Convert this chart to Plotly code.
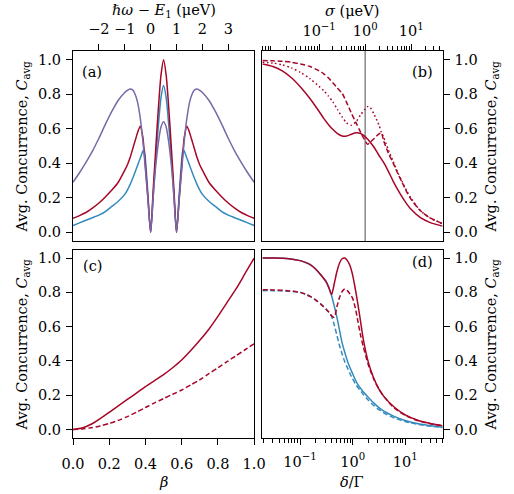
import plotly.graph_objects as go

# ---------------- data ----------------
# Panel (a): hbar*omega - E1 (ueV)
a_x = [-3.0, -2.75, -2.5, -2.25, -2.0, -1.75, -1.5, -1.25, -1.0, -0.9, -0.8, -0.7, -0.6, -0.5,
       -0.4, -0.3, -0.25, -0.2, -0.1, 0.0, 0.1, 0.2, 0.3, 0.4, 0.5, 0.6, 0.7, 0.8, 0.9, 1.0,
       1.1, 1.2, 1.25, 1.3, 1.4, 1.5, 1.6, 1.7, 1.8, 1.9, 2.0, 2.25, 2.5, 2.75, 3.0, 3.25,
       3.5, 3.75, 4.0]
a_blue = [0.04, 0.055, 0.07, 0.085, 0.10, 0.12, 0.15, 0.18, 0.22, 0.245, 0.275, 0.31, 0.35,
          0.39, 0.43, 0.47, 0.48, 0.42, 0.21, 0.0, 0.21, 0.43, 0.62, 0.78, 0.85, 0.78, 0.62,
          0.43, 0.21, 0.0, 0.21, 0.42, 0.48, 0.47, 0.43, 0.39, 0.35, 0.31, 0.275, 0.245, 0.22,
          0.18, 0.15, 0.12, 0.10, 0.085, 0.07, 0.055, 0.04]
a_red = [0.082, 0.097, 0.115, 0.14, 0.17, 0.205, 0.245, 0.29, 0.36, 0.39, 0.43, 0.48, 0.53,
         0.58, 0.615, 0.55, 0.47, 0.38, 0.19, 0.0, 0.25, 0.49, 0.72, 0.91, 1.0, 0.91, 0.72,
         0.49, 0.25, 0.0, 0.19, 0.38, 0.47, 0.55, 0.615, 0.58, 0.53, 0.48, 0.43, 0.39, 0.36,
         0.29, 0.245, 0.205, 0.17, 0.14, 0.115, 0.097, 0.082]
a_purple = [0.29, 0.345, 0.405, 0.47, 0.545, 0.625, 0.70, 0.765, 0.81, 0.822, 0.83, 0.825, 0.80,
            0.75, 0.66, 0.53, 0.45, 0.36, 0.18, 0.0, 0.21, 0.39, 0.52, 0.61, 0.64, 0.61, 0.52,
            0.39, 0.21, 0.0, 0.18, 0.36, 0.45, 0.53, 0.66, 0.75, 0.80, 0.825, 0.83, 0.822,
            0.81, 0.765, 0.70, 0.625, 0.545, 0.47, 0.405, 0.345, 0.29]

# Panel (b): sigma (ueV)
b_sigma = [0.00589, 0.01, 0.01585, 0.02512, 0.03981, 0.0631, 0.1, 0.1259, 0.1585, 0.1995,
           0.2512, 0.3162, 0.3981, 0.5012, 0.631, 0.7943, 1.0, 1.122, 1.259, 1.585, 1.995,
           2.239, 2.512, 3.162, 3.981, 5.012, 6.31, 7.943, 10.0, 15.85, 25.12, 47.86]
b_solid = [0.975, 0.96, 0.935, 0.895, 0.84, 0.775, 0.70, 0.66, 0.625, 0.595, 0.572, 0.558, 0.558,
           0.568, 0.576, 0.572, 0.554, 0.54, 0.525, 0.49, 0.445, 0.425, 0.405, 0.355, 0.30, 0.25,
           0.205, 0.165, 0.132, 0.085, 0.058, 0.036]
b_dashed = [0.995, 0.993, 0.99, 0.985, 0.975, 0.96, 0.935, 0.918, 0.895, 0.865, 0.835, 0.805, 0.75,
            0.69, 0.635, 0.58, 0.53, 0.51, 0.52, 0.545, 0.57, 0.577, 0.53, 0.46, 0.405, 0.345,
            0.29, 0.235, 0.19, 0.125, 0.085, 0.05]
b_dotted = [0.985, 0.98, 0.97, 0.952, 0.925, 0.89, 0.845, 0.82, 0.79, 0.755, 0.71, 0.668, 0.633,
            0.62, 0.64, 0.68, 0.715, 0.728, 0.726, 0.68, 0.62, 0.58, 0.55, 0.48, 0.415, 0.35,
            0.295, 0.24, 0.195, 0.125, 0.085, 0.05]
b_sigma_ref = 1.0

# Panel (c): beta
c_beta = [0.0, 0.05, 0.1, 0.15, 0.2, 0.25, 0.3, 0.35, 0.4, 0.45, 0.5, 0.55, 0.6, 0.65, 0.7,
          0.75, 0.8, 0.85, 0.9, 0.95, 1.0]
c_solid = [0.0, 0.008, 0.03, 0.063, 0.10, 0.138, 0.175, 0.212, 0.25, 0.285, 0.32, 0.36, 0.405,
           0.46, 0.52, 0.585, 0.66, 0.74, 0.82, 0.91, 1.0]
c_dashed = [0.0, 0.003, 0.01, 0.02, 0.035, 0.053, 0.075, 0.10, 0.128, 0.155, 0.18, 0.205, 0.23,
            0.26, 0.29, 0.325, 0.36, 0.395, 0.43, 0.465, 0.5]

# Panel (d): delta / Gamma
d_delta = [0.01928, 0.03162, 0.05623, 0.1, 0.1259, 0.1585, 0.1995, 0.2512, 0.3162, 0.3548,
           0.3981, 0.4467, 0.5012, 0.5623, 0.631, 0.7079, 0.7943, 0.8913, 1.0, 1.122, 1.259,
           1.413, 1.585, 1.995, 2.512, 3.162, 3.981, 6.31, 10.0, 17.78, 31.62, 51.29]
d_red = [1.0, 1.0, 0.997, 0.985, 0.975, 0.96, 0.935, 0.90, 0.86, 0.825, 0.788, 0.85, 0.92, 0.97,
         0.996, 1.0, 0.985, 0.955, 0.90, 0.82, 0.73, 0.63, 0.53, 0.39, 0.30, 0.235, 0.19, 0.128,
         0.085, 0.052, 0.033, 0.022]
d_blue = [1.0, 1.0, 0.997, 0.985, 0.975, 0.96, 0.935, 0.90, 0.86, 0.825, 0.78, 0.72, 0.655,
          0.58, 0.505, 0.45, 0.40, 0.36, 0.325, 0.29, 0.262, 0.24, 0.22, 0.187, 0.155, 0.127,
          0.105, 0.075, 0.052, 0.033, 0.021, 0.013]
d_red_dashed = [0.815, 0.814, 0.81, 0.80, 0.79, 0.775, 0.755, 0.73, 0.70, 0.683, 0.663, 0.655,
                0.715, 0.77, 0.805, 0.82, 0.81, 0.79, 0.765, 0.71, 0.63, 0.55, 0.485, 0.375,
                0.295, 0.235, 0.19, 0.122, 0.082, 0.05, 0.032, 0.021]
d_blue_dashed = [0.81, 0.81, 0.807, 0.80, 0.79, 0.775, 0.755, 0.73, 0.70, 0.683, 0.66, 0.61,
                 0.55, 0.49, 0.44, 0.395, 0.36, 0.325, 0.295, 0.268, 0.245, 0.225, 0.205,
                 0.17, 0.14, 0.115, 0.095, 0.066, 0.046, 0.029, 0.018, 0.011]

y_ticks = [0.0, 0.2, 0.4, 0.6, 0.8, 1.0]
y_ticktext = ["0.0", "0.2", "0.4", "0.6", "0.8", "1.0"]
a_ticks = [-2, -1, 0, 1, 2, 3]
a_ticktext = ["\u22122", "\u22121", "0", "1", "2", "3"]
c_ticks = [0.0, 0.2, 0.4, 0.6, 0.8, 1.0]
c_ticktext = ["0.0", "0.2", "0.4", "0.6", "0.8", "1.0"]
log_ticks = [0.1, 1, 10]
log_ticktext = ["10<sup>\u22121</sup>", "10<sup>0</sup>", "10<sup>1</sup>"]

# ---------------- style ----------------
RED = "#A60628"
BLUE = "#348ABD"
PURPLE = "#7A68A6"
GRAY = "#888888"
FONT = "DejaVu Serif"
FS = 14.5
LW = 1.5
DASH = "5px,2.6px"
DOT = "1.6px,2.6px"

W, H = 514, 494
def fx(p): return p / W
def fy(p): return 1 - p / H

XA = [fx(64), fx(254)]
XB = [fx(262.7), fx(451.7)]
YT = [fy(241), fy(51)]
YB = [fy(438), fy(249.5)]

fig = go.Figure()

def line(x, y, color, dash="solid", xa="x", ya="y", shape="spline"):
    fig.add_trace(go.Scatter(x=x, y=y, mode="lines", xaxis=xa, yaxis=ya,
                             line=dict(color=color, width=LW, dash=dash, shape=shape,
                                       smoothing=0.7 if shape == "spline" else None),
                             showlegend=False, hoverinfo="skip"))

# (a)
line(a_x, a_blue, BLUE)
line(a_x, a_red, RED)
line(a_x, a_purple, PURPLE)
# (b)
line([b_sigma_ref, b_sigma_ref], [-0.05, 1.05], GRAY, xa="x2", ya="y2", shape="linear")
line(b_sigma, b_solid, RED, xa="x2", ya="y2")
line(b_sigma, b_dashed, RED, DASH, xa="x2", ya="y2")
line(b_sigma, b_dotted, RED, DOT, xa="x2", ya="y2")
# (c)
line(c_beta, c_solid, RED, xa="x3", ya="y3")
line(c_beta, c_dashed, RED, DASH, xa="x3", ya="y3")
# (d)
line(d_delta, d_blue, BLUE, xa="x4", ya="y4")
line(d_delta, d_blue_dashed, BLUE, DASH, xa="x4", ya="y4")
line(d_delta, d_red, RED, xa="x4", ya="y4")
line(d_delta, d_red_dashed, RED, DASH, xa="x4", ya="y4")

def minor_vals(lo_exp, hi_exp):
    vals = []
    for e in range(lo_exp, hi_exp + 1):
        for m in range(2, 10):
            vals.append(m * 10.0 ** e)
    return vals

common = dict(showline=True, mirror=True, linecolor="black", linewidth=1.2,
              showgrid=False, zeroline=False, ticks="outside", ticklen=6, tickwidth=1,
              tickcolor="black", tickfont=dict(family=FONT, size=FS, color="black"))

yax = dict(common, range=[-0.05, 1.05], tickmode="array", tickvals=y_ticks,
           ticktext=y_ticktext, ticklabelstandoff=2)

fig.update_layout(
    width=W, height=H, margin=dict(l=0, r=0, t=0, b=0),
    paper_bgcolor="white", plot_bgcolor="white",
    xaxis=dict(common, domain=XA, anchor="y", side="top", range=[-3, 4], tickmode="array",
               tickvals=a_ticks, ticktext=a_ticktext, ticklabelstandoff=4),
    yaxis=dict(yax, domain=YT, anchor="x", side="left"),
    xaxis2=dict(common, domain=XB, anchor="y2", side="top", type="log", range=[-2.23, 1.68],
                tickmode="array", tickvals=log_ticks, ticktext=log_ticktext, ticklabelstandoff=2,
                minor=dict(ticks="outside", ticklen=3.5, tickwidth=1, tickcolor="black",
                           tickmode="array", tickvals=minor_vals(-3, 1), showgrid=False)),
    yaxis2=dict(yax, domain=YT, anchor="x2", side="right"),
    xaxis3=dict(common, domain=XA, anchor="y3", side="bottom", range=[0, 1], tickmode="array",
                tickvals=c_ticks, ticktext=c_ticktext, ticklabelstandoff=6),
    yaxis3=dict(yax, domain=YB, anchor="x3", side="left"),
    xaxis4=dict(common, domain=XB, anchor="y4", side="bottom", type="log", range=[-1.715, 1.71],
                tickmode="array", tickvals=log_ticks, ticktext=log_ticktext, ticklabelstandoff=4,
                minor=dict(ticks="outside", ticklen=3.5, tickwidth=1, tickcolor="black",
                           tickmode="array", tickvals=minor_vals(-2, 1), showgrid=False)),
    yaxis4=dict(yax, domain=YB, anchor="x4", side="right"),
)

def ann(text, x, y, angle=0, xanchor="center", yanchor="middle"):
    fig.add_annotation(text=text, x=fx(x), y=fy(y), xref="paper", yref="paper",
                       showarrow=False, textangle=angle, xanchor=xanchor, yanchor=yanchor,
                       font=dict(family=FONT, size=FS, color="black"))

ylabel = "Avg. Concurrence, <i>C</i><sub>avg</sub>"
ann("\u210f<i>\u03c9</i> \u2212 <i>E</i><sub>1</sub> (\u03bceV)", 159, 11)
ann("<i>\u03c3</i> (\u03bceV)", 357, 11)
ann("<i>\u03b2</i>", 159, 482)
ann("<i>\u03b4</i>/\u0393", 357, 482)
ann(ylabel, 12, 146, angle=-90)
ann(ylabel, 12, 344, angle=-90)
ann(ylabel, 504, 146, angle=-90)
ann(ylabel, 504, 344, angle=-90)
ann("(a)", 71, 72, xanchor="left")
ann("(b)", 444, 72, xanchor="right")
ann("(c)", 72, 266, xanchor="left")
ann("(d)", 444, 262, xanchor="right")

fig.write_html("out.html")
